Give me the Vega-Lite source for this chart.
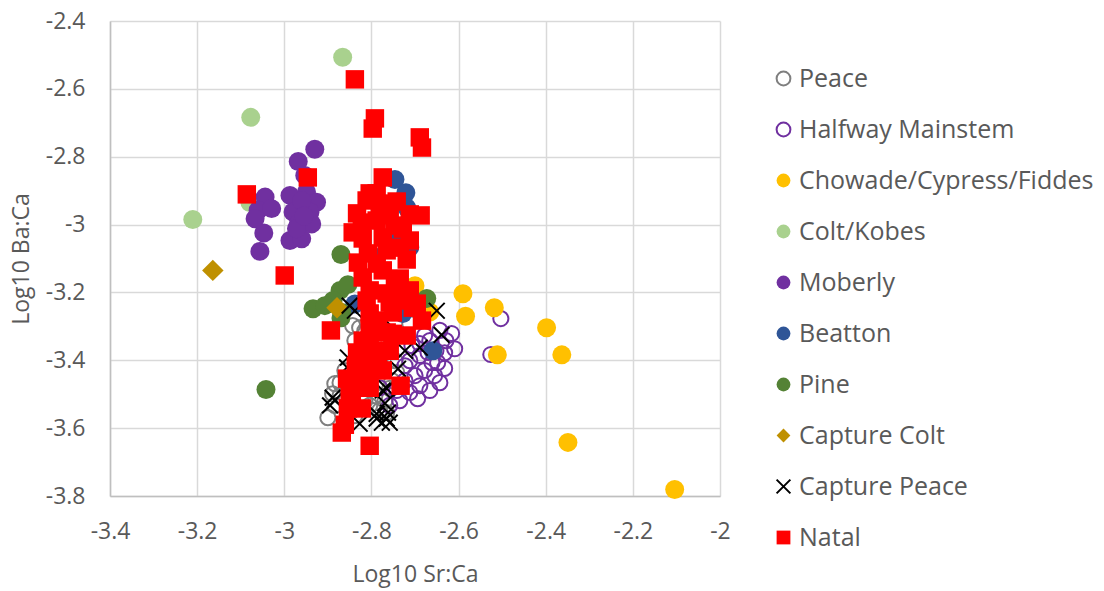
{
"$schema": "https://vega.github.io/schema/vega-lite/v6.json",
"width": 610, "height": 475,
"autosize": "none",
"padding": {"left": 110, "top": 21, "right": 384, "bottom": 95},
"background": "white",
"config": {
  "font": "Open Sans",
  "view": {"stroke": null},
  "axis": {"labelFont": "Open Sans", "titleFont": "Open Sans", "labelColor": "#595959", "titleColor": "#595959", "labelFontSize": 23, "titleFontSize": 23, "titleFontWeight": "normal", "gridColor": "#d9d9d9", "gridWidth": 1.5, "ticks": false, "domainColor": "#bfbfbf", "domainWidth": 1.5},
  "legend": {"orient": "none", "legendX": 661, "legendY": 45, "padding": 0, "labelFont": "Open Sans", "labelFontSize": 25, "labelColor": "#595959", "rowPadding": 25, "labelOffset": 3, "symbolStrokeWidth": 2, "symbolSize": 190, "labelLimit": 400}
},
"data": {"values": [
{"group":"Peace","sr":-2.900,"ba":-3.569},{"group":"Peace","sr":-2.884,"ba":-3.533},{"group":"Peace","sr":-2.884,"ba":-3.469},{"group":"Peace","sr":-2.872,"ba":-3.466},{"group":"Peace","sr":-2.889,"ba":-3.499},{"group":"Peace","sr":-2.843,"ba":-3.298},{"group":"Peace","sr":-2.827,"ba":-3.304},{"group":"Peace","sr":-2.712,"ba":-3.292},{"group":"Peace","sr":-2.792,"ba":-3.504},{"group":"Peace","sr":-2.769,"ba":-3.519},{"group":"Peace","sr":-2.804,"ba":-3.533},{"group":"Peace","sr":-2.758,"ba":-3.483},{"group":"Peace","sr":-2.742,"ba":-3.436},{"group":"Peace","sr":-2.781,"ba":-3.548},{"group":"Peace","sr":-2.815,"ba":-3.519},{"group":"Peace","sr":-2.861,"ba":-3.430},{"group":"Peace","sr":-2.872,"ba":-3.504},{"group":"Peace","sr":-2.838,"ba":-3.563},{"group":"Peace","sr":-2.785,"ba":-3.357},{"group":"Peace","sr":-2.815,"ba":-3.313},{"group":"Peace","sr":-2.746,"ba":-3.401},{"group":"Peace","sr":-2.753,"ba":-3.460},{"group":"Peace","sr":-2.850,"ba":-3.548},{"group":"Peace","sr":-2.765,"ba":-3.554},{"group":"Peace","sr":-2.838,"ba":-3.342},
{"group":"Halfway Mainstem","sr":-2.503,"ba":-3.277},{"group":"Halfway Mainstem","sr":-2.526,"ba":-3.383},{"group":"Halfway Mainstem","sr":-2.616,"ba":-3.321},{"group":"Halfway Mainstem","sr":-2.643,"ba":-3.312},{"group":"Halfway Mainstem","sr":-2.629,"ba":-3.342},{"group":"Halfway Mainstem","sr":-2.689,"ba":-3.351},{"group":"Halfway Mainstem","sr":-2.648,"ba":-3.407},{"group":"Halfway Mainstem","sr":-2.632,"ba":-3.378},{"group":"Halfway Mainstem","sr":-2.666,"ba":-3.342},{"group":"Halfway Mainstem","sr":-2.689,"ba":-3.386},{"group":"Halfway Mainstem","sr":-2.712,"ba":-3.401},{"group":"Halfway Mainstem","sr":-2.678,"ba":-3.430},{"group":"Halfway Mainstem","sr":-2.700,"ba":-3.445},{"group":"Halfway Mainstem","sr":-2.655,"ba":-3.445},{"group":"Halfway Mainstem","sr":-2.632,"ba":-3.424},{"group":"Halfway Mainstem","sr":-2.723,"ba":-3.460},{"group":"Halfway Mainstem","sr":-2.689,"ba":-3.475},{"group":"Halfway Mainstem","sr":-2.666,"ba":-3.489},{"group":"Halfway Mainstem","sr":-2.712,"ba":-3.495},{"group":"Halfway Mainstem","sr":-2.735,"ba":-3.519},{"group":"Halfway Mainstem","sr":-2.758,"ba":-3.533},{"group":"Halfway Mainstem","sr":-2.643,"ba":-3.466},{"group":"Halfway Mainstem","sr":-2.609,"ba":-3.366},{"group":"Halfway Mainstem","sr":-2.670,"ba":-3.377},{"group":"Halfway Mainstem","sr":-2.707,"ba":-3.357},{"group":"Halfway Mainstem","sr":-2.723,"ba":-3.416},{"group":"Halfway Mainstem","sr":-2.742,"ba":-3.489},{"group":"Halfway Mainstem","sr":-2.694,"ba":-3.513},{"group":"Halfway Mainstem","sr":-2.661,"ba":-3.407},{"group":"Halfway Mainstem","sr":-2.678,"ba":-3.327},{"group":"Halfway Mainstem","sr":-2.781,"ba":-3.481},{"group":"Halfway Mainstem","sr":-2.652,"ba":-3.372},
{"group":"Chowade/Cypress/Fiddes","sr":-2.590,"ba":-3.204},{"group":"Chowade/Cypress/Fiddes","sr":-2.584,"ba":-3.270},{"group":"Chowade/Cypress/Fiddes","sr":-2.518,"ba":-3.245},{"group":"Chowade/Cypress/Fiddes","sr":-2.398,"ba":-3.304},{"group":"Chowade/Cypress/Fiddes","sr":-2.511,"ba":-3.384},{"group":"Chowade/Cypress/Fiddes","sr":-2.363,"ba":-3.384},{"group":"Chowade/Cypress/Fiddes","sr":-2.349,"ba":-3.642},{"group":"Chowade/Cypress/Fiddes","sr":-2.104,"ba":-3.781},{"group":"Chowade/Cypress/Fiddes","sr":-2.700,"ba":-3.180},{"group":"Chowade/Cypress/Fiddes","sr":-2.666,"ba":-3.258},
{"group":"Colt/Kobes","sr":-2.866,"ba":-2.507},{"group":"Colt/Kobes","sr":-3.077,"ba":-2.684},{"group":"Colt/Kobes","sr":-3.210,"ba":-2.985},{"group":"Colt/Kobes","sr":-3.079,"ba":-2.935},
{"group":"Moberly","sr":-2.930,"ba":-2.778},{"group":"Moberly","sr":-2.968,"ba":-2.814},{"group":"Moberly","sr":-2.953,"ba":-2.855},{"group":"Moberly","sr":-3.044,"ba":-2.919},{"group":"Moberly","sr":-3.060,"ba":-2.958},{"group":"Moberly","sr":-3.029,"ba":-2.953},{"group":"Moberly","sr":-3.067,"ba":-2.983},{"group":"Moberly","sr":-3.047,"ba":-3.025},{"group":"Moberly","sr":-3.056,"ba":-3.079},{"group":"Moberly","sr":-2.987,"ba":-2.914},{"group":"Moberly","sr":-2.949,"ba":-2.904},{"group":"Moberly","sr":-2.926,"ba":-2.934},{"group":"Moberly","sr":-2.980,"ba":-2.963},{"group":"Moberly","sr":-2.941,"ba":-2.963},{"group":"Moberly","sr":-2.968,"ba":-2.998},{"group":"Moberly","sr":-2.937,"ba":-2.998},{"group":"Moberly","sr":-2.987,"ba":-3.047},{"group":"Moberly","sr":-2.960,"ba":-3.042},{"group":"Moberly","sr":-2.972,"ba":-3.012},{"group":"Moberly","sr":-2.960,"ba":-2.930},{"group":"Moberly","sr":-2.955,"ba":-2.975},
{"group":"Beatton","sr":-2.746,"ba":-2.867},{"group":"Beatton","sr":-2.721,"ba":-2.906},{"group":"Beatton","sr":-2.719,"ba":-2.950},{"group":"Beatton","sr":-2.712,"ba":-3.067},{"group":"Beatton","sr":-2.739,"ba":-3.038},{"group":"Beatton","sr":-2.659,"ba":-3.372},{"group":"Beatton","sr":-2.728,"ba":-3.262},{"group":"Beatton","sr":-2.838,"ba":-3.234},{"group":"Beatton","sr":-2.788,"ba":-3.097},{"group":"Beatton","sr":-2.735,"ba":-3.240},
{"group":"Pine","sr":-3.042,"ba":-3.486},{"group":"Pine","sr":-2.870,"ba":-3.088},{"group":"Pine","sr":-2.872,"ba":-3.194},{"group":"Pine","sr":-2.854,"ba":-3.177},{"group":"Pine","sr":-2.888,"ba":-3.224},{"group":"Pine","sr":-2.934,"ba":-3.248},{"group":"Pine","sr":-2.907,"ba":-3.239},{"group":"Pine","sr":-2.868,"ba":-3.259},{"group":"Pine","sr":-2.673,"ba":-3.218},{"group":"Pine","sr":-2.870,"ba":-3.275},
{"group":"Capture Colt","sr":-3.164,"ba":-3.135},{"group":"Capture Colt","sr":-2.879,"ba":-3.245},
{"group":"Capture Peace","sr":-2.850,"ba":-3.239},{"group":"Capture Peace","sr":-2.838,"ba":-3.254},{"group":"Capture Peace","sr":-2.650,"ba":-3.254},{"group":"Capture Peace","sr":-2.639,"ba":-3.325},{"group":"Capture Peace","sr":-2.689,"ba":-3.363},{"group":"Capture Peace","sr":-2.723,"ba":-3.372},{"group":"Capture Peace","sr":-2.739,"ba":-3.425},{"group":"Capture Peace","sr":-2.854,"ba":-3.392},{"group":"Capture Peace","sr":-2.856,"ba":-3.421},{"group":"Capture Peace","sr":-2.889,"ba":-3.510},{"group":"Capture Peace","sr":-2.845,"ba":-3.495},{"group":"Capture Peace","sr":-2.827,"ba":-3.587},{"group":"Capture Peace","sr":-2.788,"ba":-3.558},{"group":"Capture Peace","sr":-2.776,"ba":-3.584},{"group":"Capture Peace","sr":-2.762,"ba":-3.554},{"group":"Capture Peace","sr":-2.758,"ba":-3.584},{"group":"Capture Peace","sr":-2.765,"ba":-3.483},{"group":"Capture Peace","sr":-2.788,"ba":-3.572},{"group":"Capture Peace","sr":-2.765,"ba":-3.572},{"group":"Capture Peace","sr":-2.774,"ba":-3.489},{"group":"Capture Peace","sr":-2.769,"ba":-3.527},{"group":"Capture Peace","sr":-2.774,"ba":-3.274},{"group":"Capture Peace","sr":-2.895,"ba":-3.533},{"group":"Capture Peace","sr":-2.884,"ba":-3.518},
{"group":"Natal","sr":-2.838,"ba":-2.572},{"group":"Natal","sr":-2.792,"ba":-2.687},{"group":"Natal","sr":-2.797,"ba":-2.717},{"group":"Natal","sr":-2.689,"ba":-2.743},{"group":"Natal","sr":-2.684,"ba":-2.773},{"group":"Natal","sr":-2.946,"ba":-2.861},{"group":"Natal","sr":-3.086,"ba":-2.911},{"group":"Natal","sr":-2.999,"ba":-3.150},{"group":"Natal","sr":-2.893,"ba":-3.312},{"group":"Natal","sr":-2.804,"ba":-3.652},{"group":"Natal","sr":-2.868,"ba":-3.613},{"group":"Natal","sr":-2.861,"ba":-3.590},{"group":"Natal","sr":-2.774,"ba":-2.861},{"group":"Natal","sr":-2.804,"ba":-2.908},{"group":"Natal","sr":-2.788,"ba":-2.908},{"group":"Natal","sr":-2.811,"ba":-2.929},{"group":"Natal","sr":-2.833,"ba":-2.967},{"group":"Natal","sr":-2.765,"ba":-2.938},{"group":"Natal","sr":-2.742,"ba":-2.932},{"group":"Natal","sr":-2.687,"ba":-2.973},{"group":"Natal","sr":-2.712,"ba":-2.970},{"group":"Natal","sr":-2.788,"ba":-2.988},{"group":"Natal","sr":-2.746,"ba":-3.003},{"group":"Natal","sr":-2.843,"ba":-3.023},{"group":"Natal","sr":-2.820,"ba":-3.041},{"group":"Natal","sr":-2.774,"ba":-3.038},{"group":"Natal","sr":-2.712,"ba":-3.047},{"group":"Natal","sr":-2.808,"ba":-3.085},{"group":"Natal","sr":-2.765,"ba":-3.076},{"group":"Natal","sr":-2.735,"ba":-3.068},{"group":"Natal","sr":-2.719,"ba":-3.103},{"group":"Natal","sr":-2.788,"ba":-3.115},{"group":"Natal","sr":-2.820,"ba":-3.156},{"group":"Natal","sr":-2.774,"ba":-3.135},{"group":"Natal","sr":-2.735,"ba":-3.159},{"group":"Natal","sr":-2.804,"ba":-3.194},{"group":"Natal","sr":-2.765,"ba":-3.203},{"group":"Natal","sr":-2.712,"ba":-3.194},{"group":"Natal","sr":-2.811,"ba":-3.224},{"group":"Natal","sr":-2.758,"ba":-3.230},{"group":"Natal","sr":-2.696,"ba":-3.233},{"group":"Natal","sr":-2.804,"ba":-3.262},{"group":"Natal","sr":-2.751,"ba":-3.259},{"group":"Natal","sr":-2.684,"ba":-3.283},{"group":"Natal","sr":-2.804,"ba":-3.304},{"group":"Natal","sr":-2.765,"ba":-3.318},{"group":"Natal","sr":-2.719,"ba":-3.327},{"group":"Natal","sr":-2.820,"ba":-3.342},{"group":"Natal","sr":-2.705,"ba":-3.245},{"group":"Natal","sr":-2.804,"ba":-3.342},{"group":"Natal","sr":-2.751,"ba":-3.322},{"group":"Natal","sr":-2.833,"ba":-3.377},{"group":"Natal","sr":-2.797,"ba":-3.372},{"group":"Natal","sr":-2.758,"ba":-3.372},{"group":"Natal","sr":-2.804,"ba":-3.421},{"group":"Natal","sr":-2.774,"ba":-3.430},{"group":"Natal","sr":-2.856,"ba":-3.454},{"group":"Natal","sr":-2.820,"ba":-3.454},{"group":"Natal","sr":-2.804,"ba":-3.481},{"group":"Natal","sr":-2.733,"ba":-3.475},{"group":"Natal","sr":-2.850,"ba":-3.495},{"group":"Natal","sr":-2.854,"ba":-3.542},{"group":"Natal","sr":-2.822,"ba":-3.542},{"group":"Natal","sr":-2.811,"ba":-3.439},{"group":"Natal","sr":-2.845,"ba":-3.498},{"group":"Natal","sr":-2.831,"ba":-3.112},{"group":"Natal","sr":-2.746,"ba":-3.180},{"group":"Natal","sr":-2.785,"ba":-3.283},{"group":"Natal","sr":-2.735,"ba":-3.224},{"group":"Natal","sr":-2.822,"ba":-2.994},{"group":"Natal","sr":-2.728,"ba":-3.012},{"group":"Natal","sr":-2.758,"ba":-2.973},{"group":"Natal","sr":-2.781,"ba":-2.953},{"group":"Natal","sr":-2.785,"ba":-3.386},{"group":"Natal","sr":-2.836,"ba":-3.416}
]},
"mark": {"type": "point", "opacity": 1, "strokeWidth": 2},
"encoding": {
  "x": {"field": "sr", "type": "quantitative", "scale": {"domain": [-3.4, -2], "nice": false, "zero": false},
        "axis": {"title": "Log10 Sr:Ca", "values": [-3.4,-3.2,-3,-2.8,-2.6,-2.4,-2.2,-2], "labelExpr": "'' + datum.value", "labelPadding": 24, "titlePadding": 20, "labelFlush": false}},
  "y": {"field": "ba", "type": "quantitative", "scale": {"domain": [-3.8, -2.4], "nice": false, "zero": false},
        "axis": {"title": "Log10 Ba:Ca", "values": [-3.8,-3.6,-3.4,-3.2,-3,-2.8,-2.6,-2.4], "labelExpr": "'' + datum.value", "labelPadding": 25, "titlePadding": 12, "labelFlush": false}},
  "size": {"condition": [
      {"test": "datum.group === 'Natal'", "value": 340},
      {"test": "datum.group === 'Capture Peace'", "value": 250},
      {"test": "datum.group === 'Peace' || datum.group === 'Halfway Mainstem'", "value": 230},
      {"test": "datum.group === 'Capture Colt'", "value": 460}
    ], "value": 360},
  "shape": {"field": "group", "type": "nominal", "title": null,
    "scale": {"domain": ["Peace","Halfway Mainstem","Chowade/Cypress/Fiddes","Colt/Kobes","Moberly","Beatton","Pine","Capture Colt","Capture Peace","Natal"],
              "range": ["circle","circle","circle","circle","circle","circle","circle","diamond","M-1,-1L1,1M-1,1L1,-1","square"]}},
  "fill": {"field": "group", "type": "nominal", "title": null,
    "scale": {"domain": ["Peace","Halfway Mainstem","Chowade/Cypress/Fiddes","Colt/Kobes","Moberly","Beatton","Pine","Capture Colt","Capture Peace","Natal"],
              "range": ["transparent","transparent","#FFC000","#A9D18E","#7030A0","#2F5597","#548235","#BF9000","transparent","#FF0000"]}},
  "stroke": {"field": "group", "type": "nominal", "title": null,
    "scale": {"domain": ["Peace","Halfway Mainstem","Chowade/Cypress/Fiddes","Colt/Kobes","Moberly","Beatton","Pine","Capture Colt","Capture Peace","Natal"],
              "range": ["#7F7F7F","#7030A0","transparent","transparent","transparent","transparent","transparent","transparent","#000000","transparent"]}}
}
}
